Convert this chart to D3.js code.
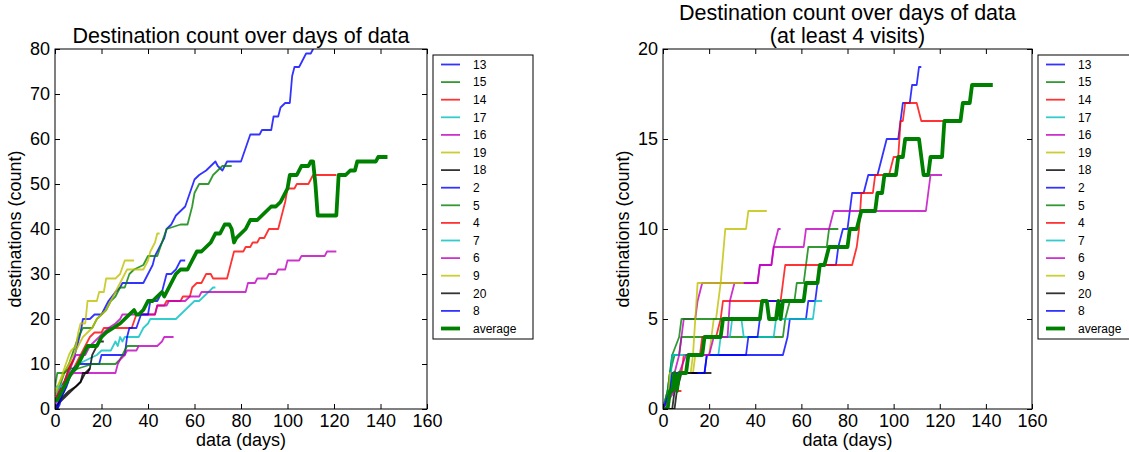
<!DOCTYPE html>
<html>
<head>
<meta charset="utf-8">
<script src="https://cdn.jsdelivr.net/npm/d3@7"></script>
<style>
  body { margin: 0; background: #fff; }
  text { font-family: "Liberation Sans", Arial, sans-serif; }
</style>
</head>
<body>
<svg id="chart" width="1129" height="452"></svg>
<script>
// legend order of the users, and their matplotlib-classic colours
const userNames = ['13', '15', '14', '17', '16', '19', '18', '2', '5', '4', '7', '6', '9', '20', '8'];
const userColors = ['#0000ff', '#008000', '#ff0000', '#00bfbf', '#bf00bf', '#bfbf00', '#000000',
  '#0000ff', '#008000', '#ff0000', '#00bfbf', '#bf00bf', '#bfbf00', '#000000', '#0000ff'];

const xTicks = [0, 20, 40, 60, 80, 100, 120, 140, 160];
const yTicksAll = [0, 10, 20, 30, 40, 50, 60, 70, 80];
const yTicksFour = [0, 5, 10, 15, 20];

// [day, destinations] per user, all destinations
const allDest = [
  [[0,2],[2,4],[4,6],[6,9],[8,11],[9,13],[11,17],[12,20],[15,20],[17,21],[20,21],[21,22],[23,24],[26,26],[28,27],[29,28],[38,28],[40,30],[42,32],[43,34],[45,36],[47,38],[48,40],[50,41],[52,43],[54,44],[56,45],[58,48],[60,51],[62,52],[65,53],[67,54],[69,55],[70,54],[72,53],[74,55],[80,55],[82,58],[84,61],[88,61],[89,62],[93,62],[94,65],[96,65],[97,67],[99,68],[101,68],[102,74],[103,76],[105,76],[107,78],[108,79],[110,79],[111,80],[113,82]],
  [[0,3],[2,5],[4,8],[6,10],[8,13],[10,16],[12,18],[16,18],[18,20],[20,21],[22,22],[24,24],[26,25],[28,27],[30,27],[32,30],[34,31],[38,32],[40,34],[44,34],[46,37],[48,40],[54,41],[57,41],[59,45],[60,48],[62,50],[66,50],[68,52],[70,53],[72,54],[76,54]],
  [[0,2],[2,3],[4,5],[6,7],[8,9],[10,11],[12,13],[13,14],[15,16],[17,17],[20,17],[21,18],[33,18],[35,21],[43,21],[44,23],[47,23],[48,24],[54,24],[55,25],[58,25],[59,27],[61,28],[63,28],[65,30],[67,30],[68,29],[74,29],[76,33],[77,35],[81,35],[82,36],[84,36],[85,37],[87,37],[88,38],[90,38],[92,40],[96,40],[97,42],[99,46],[100,49],[103,49],[104,50],[109,50],[111,52],[121,52]],
  [[0,3],[2,5],[4,6],[6,7],[8,9],[10,10],[14,11],[18,12],[20,13],[24,13],[25,14],[26,15],[27,14],[28,16],[29,15],[30,16],[36,16],[38,18],[40,19],[41,20],[52,20],[54,21],[56,22],[58,23],[60,24],[62,24],[64,25],[66,26],[68,27],[69,27]],
  [[0,2],[2,4],[4,6],[6,8],[8,11],[9,12],[13,12],[15,14],[17,15],[19,16],[21,17],[23,18],[26,19],[28,20],[29,21],[43,21],[44,23],[48,23],[49,24],[56,24],[58,25],[62,25],[63,26],[82,26],[83,28],[86,28],[87,29],[91,29],[92,30],[95,30],[96,31],[99,31],[100,33],[105,33],[106,34],[116,34],[117,35],[121,35]],
  [[0,4],[2,6],[4,8],[6,10],[8,12],[10,14],[12,16],[14,17],[16,18],[18,20],[20,21],[22,22],[24,24],[26,26],[28,28],[30,30],[31,31],[38,31],[40,33],[41,35],[43,37],[44,39],[45,39]],
  [[0,0],[1,1],[3,2],[5,3],[7,4],[9,5],[11,6],[12,7],[13,8],[15,9],[16,12],[17,13],[19,15],[21,15]],
  [[0,0],[1,1],[2,2],[4,4],[6,7],[8,9],[10,10],[19,10],[20,12],[30,12],[31,16],[32,18],[35,18],[37,21],[40,21],[41,24],[44,24],[46,26],[48,30],[50,30],[52,31],[54,33],[56,33]],
  [[0,5],[1,8],[4,8],[6,9],[10,9],[16,10],[26,10],[28,11],[30,13],[31,14],[36,14]],
  [[0,2],[2,4],[4,6],[6,9],[8,11]],
  [[0,5],[3,5],[6,6]],
  [[0,1],[2,3],[4,5],[6,7],[8,8],[26,8],[27,10],[28,11],[30,12],[31,13],[35,13],[36,14],[44,14],[46,15],[47,16],[51,16]],
  [[0,3],[2,6],[4,9],[6,12],[7,13],[9,14],[10,17],[11,19],[13,19],[14,24],[18,24],[19,26],[21,26],[22,29],[26,29],[28,30],[30,33],[34,33]],
  [[1,0],[2,2],[4,3],[6,4],[9,5],[11,6],[12,8],[14,8],[15,9]],
  [[0,0],[1,0],[2,1],[3,3],[5,5],[7,8],[8,9]]
];
const avgAll = [[0,2],[1,2],[3,4],[5,6],[7,8],[9,9],[11,11],[13,13],[14,14],[18,14],[20,16],[22,17],[25,18],[28,19],[30,20],[32,21],[34,22],[35,21],[36,21],[38,22],[40,24],[42,24],[44,25],[46,26],[47,25],[48,26],[50,28],[52,30],[54,31],[57,31],[59,33],[61,35],[63,35],[65,36],[67,37],[69,39],[71,39],[73,41],[75,41],[76,40],[77,37],[78,38],[80,39],[82,40],[84,42],[87,42],[89,43],[91,44],[93,45],[95,45],[97,46],[99,48],[100,49],[101,52],[104,52],[106,54],[109,54],[110,55],[111,55],[112,50],[113,43],[121,43],[122,52],[125,52],[127,53],[129,53],[130,55],[138,55],[139,56],[143,56]];

// [day, destinations] per user, destinations with at least 4 visits
const fourVisits = [
  [[0,0],[3,1],[5,2],[18,2],[19,3],[52,3],[54,4],[55,5],[62,5],[63,6],[66,6],[68,8],[75,8],[76,9],[78,10],[80,10],[82,12],[87,12],[89,13],[93,13],[95,14],[97,15],[102,15],[104,17],[107,17],[108,18],[110,18],[111,19],[112,19]],
  [[0,0],[2,1],[3,2],[5,3],[7,3],[8,4],[52,4],[53,5],[55,6],[57,6],[58,7],[61,7],[63,9],[71,9],[72,10],[76,10]],
  [[0,0],[3,1],[5,2],[8,2],[9,3],[16,3],[17,4],[23,4],[25,5],[26,6],[51,6],[53,8],[82,8],[84,9],[85,10],[86,12],[91,12],[92,13],[98,13],[100,14],[102,14],[103,16],[104,16],[105,17],[110,17],[112,16],[122,16]],
  [[0,0],[2,1],[3,2],[4,3],[24,3],[25,4],[29,4],[30,5],[34,5],[35,4],[48,4],[49,5],[65,5],[66,6],[69,6]],
  [[0,0],[3,1],[5,2],[7,3],[8,4],[9,5],[14,5],[15,6],[17,7],[41,7],[42,8],[47,8],[48,9],[61,9],[62,10],[72,10],[74,11],[114,11],[116,13],[121,13]],
  [[0,0],[3,1],[5,2],[13,2],[14,3],[20,3],[21,4],[22,5],[23,5],[25,7],[27,10],[36,10],[37,11],[45,11]],
  [[0,0],[4,0],[5,1],[7,2],[21,2]],
  [[0,0],[4,1],[6,2],[18,2],[19,3],[36,3],[37,4],[41,4],[42,5],[43,6],[56,6]],
  [[0,0],[2,1],[3,2],[4,3],[7,4],[8,5],[36,5]],
  [[0,0],[3,1],[8,1]],
  [[0,0],[3,1],[4,3],[6,3]],
  [[0,0],[5,1],[7,2],[10,3],[20,3],[22,4],[28,4],[29,6],[31,7],[41,7],[42,8],[47,8],[48,9],[50,10],[51,10]],
  [[0,0],[2,0],[3,2],[12,2],[13,3],[14,5],[15,7],[35,7]],
  [[0,0],[5,0],[6,1],[8,2],[15,2]],
  [[0,0],[3,1],[4,2],[8,2]]
];
const avgFour = [[0,0],[2,0],[3,1],[4,1],[5,2],[6,1],[7,2],[10,2],[11,3],[17,3],[18,4],[25,4],[26,5],[42,5],[43,6],[45,6],[46,5],[49,5],[50,6],[51,5],[52,6],[61,6],[62,7],[67,7],[68,8],[70,8],[72,9],[80,9],[81,10],[84,10],[86,11],[92,11],[93,12],[95,12],[96,13],[101,13],[102,14],[104,14],[105,15],[111,15],[113,13],[115,13],[116,14],[121,14],[122,16],[129,16],[130,17],[133,17],[134,18],[143,18]];

const svg = d3.select('#chart');

function drawPanel(cfg, idx) {
  const x = d3.scaleLinear().domain([0, 160]).range([cfg.left, cfg.right]);
  const y = d3.scaleLinear().domain([0, cfg.ymax]).range([cfg.bottom, cfg.top]);
  const g = svg.append('g');

  g.append('clipPath').attr('id', 'clip' + idx)
    .append('rect')
    .attr('x', cfg.left).attr('y', cfg.top)
    .attr('width', cfg.right - cfg.left).attr('height', cfg.bottom - cfg.top);

  const line = d3.line().x(d => x(d[0])).y(d => y(d[1]));
  const plot = g.append('g').attr('clip-path', `url(#clip${idx})`);

  plot.selectAll('path.user')
    .data(cfg.series)
    .enter().append('path')
    .attr('class', 'user')
    .attr('d', line)
    .attr('fill', 'none')
    .attr('stroke', (d, i) => userColors[i])
    .attr('stroke-opacity', 0.8)
    .attr('stroke-width', 1.8)
    .attr('stroke-linejoin', 'round');

  plot.append('path')
    .datum(cfg.avg)
    .attr('d', line)
    .attr('fill', 'none')
    .attr('stroke', '#008000')
    .attr('stroke-width', 3.8)
    .attr('stroke-linejoin', 'round');

  // axes, ticks pointing inside on all four sides
  const fontSize = '18px';
  g.append('g').attr('transform', `translate(0,${cfg.bottom})`)
    .call(d3.axisBottom(x).tickValues(xTicks).tickSize(-5).tickPadding(5))
    .call(a => a.select('.domain').remove())
    .selectAll('text').attr('font-size', fontSize).attr('fill', '#000');
  g.append('g').attr('transform', `translate(0,${cfg.top})`)
    .call(d3.axisTop(x).tickValues(xTicks).tickSize(-5).tickFormat(''))
    .call(a => a.select('.domain').remove());
  g.append('g').attr('transform', `translate(${cfg.left},0)`)
    .call(d3.axisLeft(y).tickValues(cfg.yticks).tickSize(-5).tickPadding(5))
    .call(a => a.select('.domain').remove())
    .selectAll('text').attr('font-size', fontSize).attr('fill', '#000');
  g.append('g').attr('transform', `translate(${cfg.right},0)`)
    .call(d3.axisRight(y).tickValues(cfg.yticks).tickSize(-5).tickFormat(''))
    .call(a => a.select('.domain').remove());
  g.selectAll('.tick line').attr('stroke', '#000');
  g.selectAll('.tick text').attr('font-family', '"Liberation Sans", Arial, sans-serif');

  g.append('rect')
    .attr('x', cfg.left).attr('y', cfg.top)
    .attr('width', cfg.right - cfg.left).attr('height', cfg.bottom - cfg.top)
    .attr('fill', 'none').attr('stroke', '#000').attr('stroke-width', 1);

  const cx = (cfg.left + cfg.right) / 2;
  g.append('text').attr('x', cx).attr('y', 446)
    .attr('text-anchor', 'middle').attr('font-size', '18px').text('data (days)');
  g.append('text')
    .attr('transform', `translate(${cfg.left - 34},${(cfg.top + cfg.bottom) / 2}) rotate(-90)`)
    .attr('text-anchor', 'middle').attr('font-size', '18px').text('destinations (count)');

  cfg.title.forEach((t, i) => {
    g.append('text').attr('x', cx).attr('y', 43 - (cfg.title.length - 1 - i) * 23)
      .attr('text-anchor', 'middle').attr('font-size', '21.5px').text(t);
  });

  // legend
  const lx = cfg.right + 6, ly = 55, step = 17.6;
  const labels = userNames.concat(['average']);
  g.append('rect').attr('x', lx).attr('y', ly)
    .attr('width', 100).attr('height', 284)
    .attr('fill', '#fff').attr('stroke', '#000').attr('stroke-width', 1);
  const item = g.selectAll('g.legend-item')
    .data(labels)
    .enter().append('g')
    .attr('class', 'legend-item')
    .attr('transform', (d, i) => `translate(${lx},${ly + 9.5 + i * step})`);
  item.append('line')
    .attr('x1', 8).attr('x2', 27)
    .attr('stroke', (d, i) => i < userColors.length ? userColors[i] : '#008000')
    .attr('stroke-opacity', (d, i) => i < userColors.length ? 0.8 : 1)
    .attr('stroke-width', (d, i) => i < userColors.length ? 1.8 : 3.8);
  item.append('text')
    .attr('x', 40).attr('dy', '0.35em')
    .attr('font-size', '12px')
    .text(d => d);
}

drawPanel({left: 55, right: 427, top: 49, bottom: 409, ymax: 80, yticks: yTicksAll,
  series: allDest, avg: avgAll, title: ['Destination count over days of data']}, 0);
drawPanel({left: 663, right: 1032, top: 49, bottom: 409, ymax: 20, yticks: yTicksFour,
  series: fourVisits, avg: avgFour, title: ['Destination count over days of data', '(at least 4 visits)']}, 1);
</script>
</body>
</html>
